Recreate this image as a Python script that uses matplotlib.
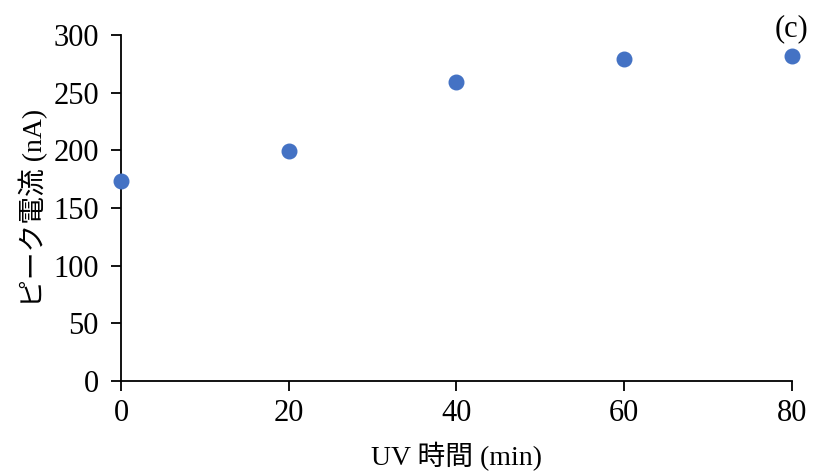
"""
ピーク電流 vs UV 時間 の散布図
"""
import matplotlib
matplotlib.use("Agg")
import matplotlib.pyplot as plt

uv_time = [0, 20, 40, 60, 80]
peak_current = [173, 199, 259, 279, 282]
x_ticks = [0, 20, 40, 60, 80]
y_ticks = [0, 50, 100, 150, 200, 250, 300]

plt.rcParams['font.family'] = ['Liberation Serif', 'Noto Sans CJK JP']

fig = plt.figure(figsize=(8.18, 4.71), dpi=100)
ax = fig.add_axes([0.148, 0.191, 0.820, 0.735])

ax.scatter(uv_time, peak_current, s=110, color='#4472C4', zorder=3, clip_on=False)

ax.set_xlim(0, 80)
ax.set_ylim(0, 300)
ax.set_xticks(x_ticks)
ax.set_yticks(y_ticks)
ax.tick_params(axis='both', labelsize=22, direction='out', length=7, width=1.3)
ax.tick_params(axis='x', pad=6)
ax.tick_params(axis='y', pad=9)

for side in ['top', 'right']:
    ax.spines[side].set_visible(False)
for side in ['left', 'bottom']:
    ax.spines[side].set_linewidth(1.3)

ax.set_xlabel('UV 時間 (min)', fontsize=20, labelpad=10)
ax.set_ylabel('ピーク電流 (nA)', fontsize=20, labelpad=4)

ax.text(1.0, 0.975, '(c)', transform=ax.transAxes, fontsize=22,
        ha='center', va='bottom', clip_on=False)

fig.savefig('out.png', dpi=100)
plt.close(fig)
